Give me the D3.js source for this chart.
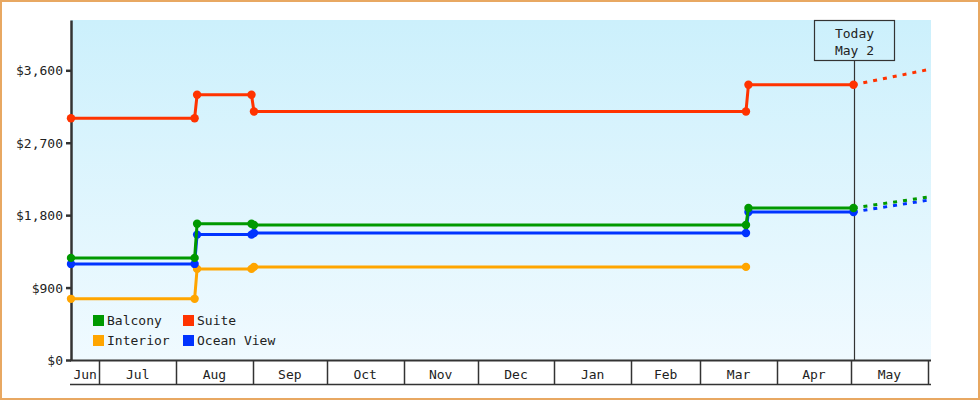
<!DOCTYPE html>
<html>
<head>
<meta charset="utf-8">
<script src="https://cdn.jsdelivr.net/npm/d3@7"></script>
<style>
  html, body { margin: 0; padding: 0; background: #fff; }
  svg { display: block; }
  text { font-family: "DejaVu Sans Mono", "Liberation Mono", monospace; font-size: 13px; fill: #222; }
</style>
</head>
<body>
<svg id="chart" width="980" height="400"></svg>
<script>
// ---- data ----
const seriesNames = ["Balcony", "Suite", "Interior", "Ocean View"];
const seriesColors = ["#009900", "#ff3300", "#ffa500", "#0033ff"];

const mainDates = ["2014-06-19T12:00", "2014-08-08T12:00", "2014-08-09T12:00", "2014-08-31T12:00",
                   "2014-09-01T12:00", "2015-03-19T12:00", "2015-03-20T12:00", "2015-05-02T00:00"];
const interiorDates = ["2014-06-19T12:00", "2014-08-08T12:00", "2014-08-09T12:00", "2014-08-31T12:00",
                       "2014-09-01T12:00", "2015-03-19T12:00"];

const balconyValues   = [1269, 1269, 1694, 1694, 1678, 1678, 1889, 1889];
const suiteValues     = [3005, 3005, 3296, 3296, 3088, 3088, 3420, 3420];
const interiorValues  = [760, 760, 1132, 1132, 1157, 1157];
const oceanViewValues = [1194, 1194, 1558, 1558, 1579, 1579, 1840, 1840];

const forecastDates = ["2015-05-02T00:00", "2015-06-02T08:00"];
const balconyForecast   = [1889, 2030];
const suiteForecast     = [3420, 3615];
const oceanViewForecast = [1840, 1992];

const todayDate = "2015-05-02T00:00";
const todayLabel = ["Today", "May 2"];
const monthLabels = ["Jun", "Jul", "Aug", "Sep", "Oct", "Nov", "Dec", "Jan", "Feb", "Mar", "Apr", "May"];
const yTicks = [0, 900, 1800, 2700, 3600];
const yMax = 4225;

// ---- build ----
const parse = d3.isoParse;
const mk = (ds, vs) => ds.map((d, i) => ({ date: new Date(d), value: vs[i] }));

const series = [
  { name: "Interior",   color: seriesColors[2], pts: mk(interiorDates, interiorValues), fc: null },
  { name: "Ocean View", color: seriesColors[3], pts: mk(mainDates, oceanViewValues), fc: mk(forecastDates, oceanViewForecast) },
  { name: "Balcony",    color: seriesColors[0], pts: mk(mainDates, balconyValues), fc: mk(forecastDates, balconyForecast) },
  { name: "Suite",      color: seriesColors[1], pts: mk(mainDates, suiteValues), fc: mk(forecastDates, suiteForecast) }
];

const svg = d3.select("#chart");
const L = 71, R = 931, T = 20, B = 360, bandB = 385;

const x = d3.scaleTime()
  .domain([new Date(mainDates[0]), new Date(forecastDates[1])])
  .range([L, R]);
const y = d3.scaleLinear().domain([0, yMax]).range([B, T]);

// outer border
svg.append("rect").attr("x", 1).attr("y", 1).attr("width", 978).attr("height", 398)
  .attr("fill", "#fff").attr("stroke", "#e8a862").attr("stroke-width", 2);

// plot background gradient
const defs = svg.append("defs");
const grad = defs.append("linearGradient").attr("id", "bg").attr("x1", 0).attr("y1", 0).attr("x2", 0).attr("y2", 1);
grad.append("stop").attr("offset", "0%").attr("stop-color", "#ccf0fc");
grad.append("stop").attr("offset", "100%").attr("stop-color", "#f0faff");
svg.append("rect").attr("x", L).attr("y", T).attr("width", R - L).attr("height", B - T).attr("fill", "url(#bg)");

// x band axis
const [d0, d1] = x.domain();
const bounds = [d0, ...d3.timeMonth.range(d3.timeMonth.ceil(d0), d1), d1];
const bandG = svg.append("g");
bandG.append("line").attr("x1", L - 1).attr("x2", R).attr("y1", B + 0.5).attr("y2", B + 0.5)
  .attr("stroke", "#333").attr("stroke-width", 2);
bandG.append("line").attr("x1", L - 1).attr("x2", R).attr("y1", bandB - 0.5).attr("y2", bandB - 0.5)
  .attr("stroke", "#333").attr("stroke-width", 1.5);
bounds.slice(1, -1).forEach(d => {
  const xx = Math.round(x(d)) + 0.5;
  bandG.append("line").attr("x1", xx).attr("x2", xx).attr("y1", B).attr("y2", bandB)
    .attr("stroke", "#333").attr("stroke-width", 1.5);
});
bounds.slice(0, -1).forEach((d, i) => {
  const cx = (x(d) + x(bounds[i + 1])) / 2;
  bandG.append("text").attr("x", cx).attr("y", 378.5).attr("text-anchor", "middle").text(monthLabels[i]);
});

// y axis
const yAxis = d3.axisLeft(y).tickValues(yTicks).tickSize(5).tickSizeOuter(0)
  .tickFormat(d => "$" + d3.format(",")(d));
const yg = svg.append("g").attr("transform", `translate(${L},0)`).call(yAxis);
yg.select(".domain").attr("stroke", "#333").attr("stroke-width", 2.5);
yg.selectAll(".tick line").attr("stroke", "#333").attr("stroke-width", 2.5);
yg.selectAll(".tick text").attr("x", -8).attr("dy", "0.35em")
  .style("font-family", "'DejaVu Sans Mono', monospace").style("font-size", "13px").attr("fill", "#333");

// today marker
const tx = Math.round(x(new Date(todayDate))) + 0.5;
svg.append("line").attr("x1", tx).attr("x2", tx).attr("y1", 60.5).attr("y2", B)
  .attr("stroke", "#333").attr("stroke-width", 1.2);
svg.append("rect").attr("x", tx - 40).attr("y", T + 0.5).attr("width", 80).attr("height", 40)
  .attr("fill", "none").attr("stroke", "#333").attr("stroke-width", 1.2);
svg.append("text").attr("x", tx).attr("y", 37.5).attr("text-anchor", "middle").text(todayLabel[0]);
svg.append("text").attr("x", tx).attr("y", 55).attr("text-anchor", "middle").text(todayLabel[1]);

// series
const line = d3.line().x(d => x(d.date)).y(d => y(d.value));
series.forEach(s => {
  const g = svg.append("g");
  if (s.fc) {
    g.append("path").attr("d", line(s.fc)).attr("fill", "none").attr("stroke", s.color)
      .attr("stroke-width", 3).attr("stroke-dasharray", "4,6");
  }
  g.append("path").attr("d", line(s.pts)).attr("fill", "none").attr("stroke", s.color)
    .attr("stroke-width", 3).attr("stroke-linejoin", "round");
  g.selectAll("circle").data(s.pts).join("circle")
    .attr("cx", d => x(d.date)).attr("cy", d => y(d.value)).attr("r", 4.2).attr("fill", s.color);
});

// legend
const legendPos = [[93, 315], [183, 315], [93, 335], [183, 335]];
seriesNames.forEach((n, i) => {
  const [lx, ly] = legendPos[i];
  svg.append("rect").attr("x", lx).attr("y", ly).attr("width", 11).attr("height", 11).attr("fill", seriesColors[i]);
  svg.append("text").attr("x", lx + 14).attr("y", ly + 10).text(n);
});
</script>
</body>
</html>
